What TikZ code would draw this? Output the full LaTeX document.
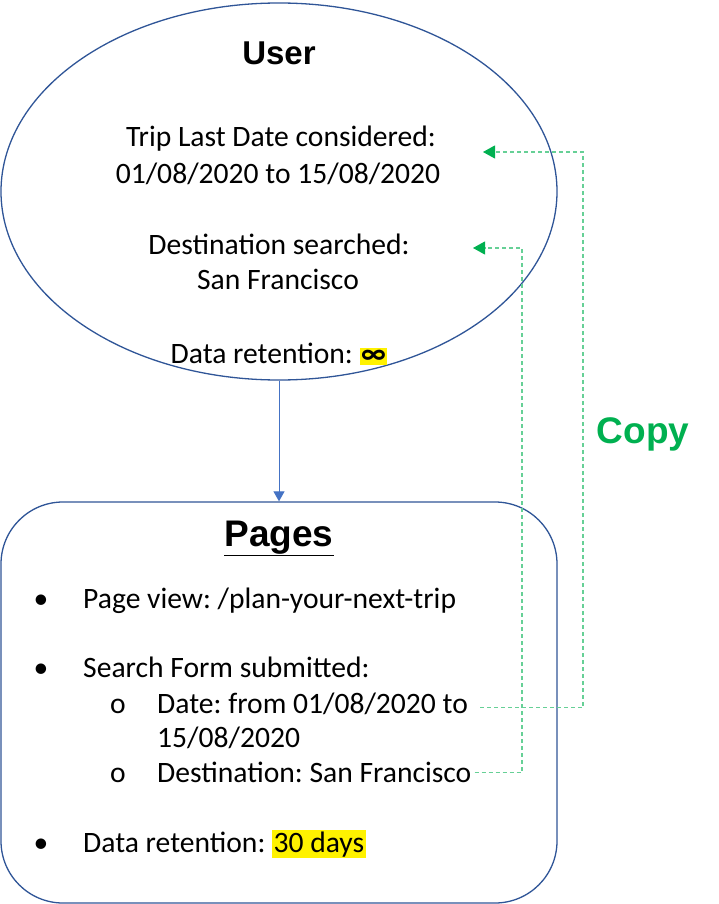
\documentclass[tikz,border=0pt]{standalone}
\usepackage{fontspec}
\setmainfont{Carlito}
\newfontfamily\headfont{Liberation Sans}
\usetikzlibrary{shapes.geometric,arrows.meta,positioning}
\definecolor{userblue}{HTML}{2F5597}
\definecolor{arrowblue}{HTML}{4472C4}
\definecolor{copygreen}{HTML}{00B050}
\tikzset{
  txt/.style={font=\fontsize{29.6}{36}\selectfont,inner sep=0pt,anchor=base},
  head/.style={font=\headfont\bfseries\fontsize{33}{40}\selectfont,inner sep=0pt,anchor=base},
  copyline/.style={copygreen!60,line width=1.1pt,dash pattern=on 4pt off 3pt,
    -{Triangle[length=12pt,width=13pt,fill=copygreen,color=copygreen]}},
}
\newcommand{\hl}[1]{{\fboxsep=1.5pt\colorbox{yellow}{#1}}}
\frenchspacing

\begin{document}
\begin{tikzpicture}[x=1pt,y=-1pt]
\useasboundingbox (0,0) rectangle (718,904);
% user ellipse
\node[ellipse,draw=userblue,line width=1.3pt,minimum width=556pt,minimum height=377pt,inner sep=0pt] (user) at (279,191.5) {};
\node[head] (usertitle) at (279,65) {User};
\node[txt] (trip1) at (281,147) {Trip Last Date considered:};
\node[txt] (trip2) at (278,184) {01/08/2020 to 15/08/2020};
\node[txt] (dest1) at (279,254) {Destination searched:};
\node[txt] (dest2) at (278,289) {San Francisco};
\node[txt] (ret1) at (279,363) {Data retention: \hl{\textbf{∞}}};
% pages box
\node[draw=userblue,line width=1.3pt,rounded corners=62pt,minimum width=556pt,minimum height=401pt,inner sep=0pt] (pages) at (279,702.5) {};
\node[head,font=\headfont\bfseries\fontsize{37}{44}\selectfont] (pagetitle) at (279,546) {\underline{Pages}};
\draw[arrowblue,line width=1pt,-{Triangle[length=10pt,width=11pt]}] (user.south) -- (pages.north);
\foreach \y/\name in {608/b1,677/b2,852/b3}
  \node[txt] (\name) at (41,\y) {\textbullet};
\foreach \y/\name in {713/s1,782/s2}
  \node[txt] (\name) at (118,\y) {o};
\node[txt,anchor=base west] (view) at (83,608) {Page view: /plan-your-next-trip};
\node[txt,anchor=base west] (form) at (83,677) {Search Form submitted:};
\node[txt,anchor=base west] (date1) at (157,713) {Date: from 01/08/2020 to};
\node[txt,anchor=base west] (date2) at (157,747) {15/08/2020};
\node[txt,anchor=base west] (destp) at (157,782) {Destination: San Francisco};
\node[txt,anchor=base west] (ret2) at (83,852) {Data retention: \hl{30 days}};
% copy links
\coordinate (c1s) at ([xshift=12pt,yshift=-4.5pt]date1.east);
\coordinate (c1t) at (583,152);
\coordinate (c1e) at (483,152);
\coordinate (c2s) at ([xshift=3pt,yshift=-0.5pt]destp.east);
\coordinate (c2t) at (522,248);
\coordinate (c2e) at (473,248);
\draw[copyline] (c1s) -| (c1t) -- (c1e);
\draw[copyline] (c2s) -| (c2t) -- (c2e);
\node[font=\headfont\bfseries\fontsize{37}{44}\selectfont,text=copygreen,inner sep=0pt,anchor=base] (copy) at (643,443) {Copy};
\end{tikzpicture}
\end{document}
